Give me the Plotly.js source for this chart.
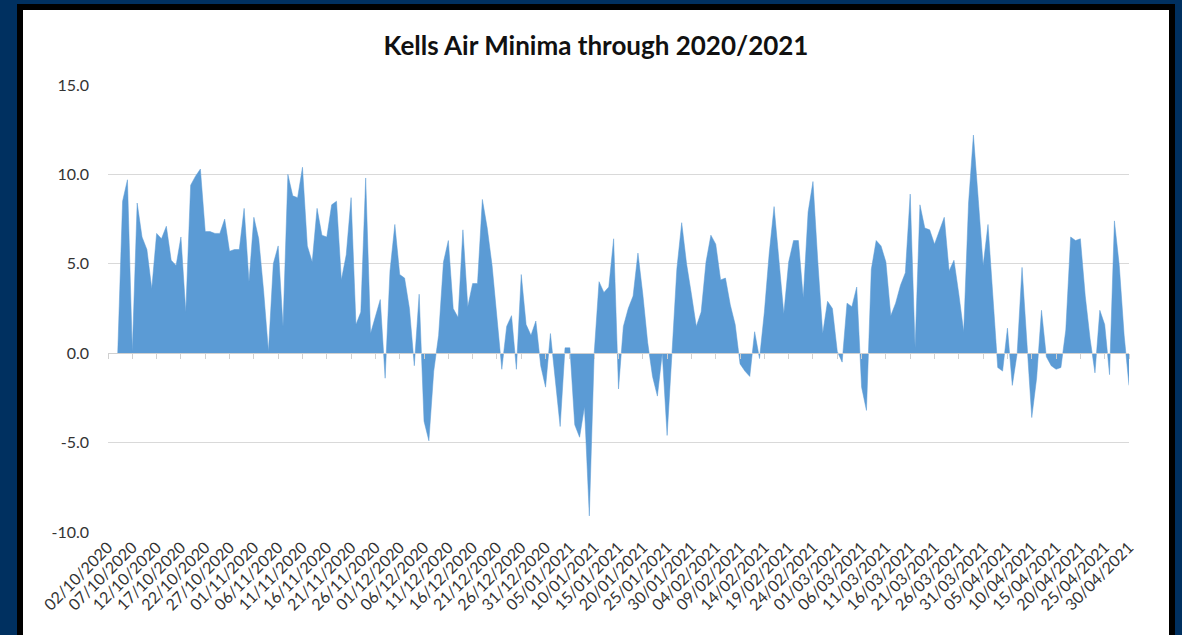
<!DOCTYPE html>
<html>
<head>
<meta charset="utf-8">
<script src="https://cdn.plot.ly/plotly-3.0.1.min.js"></script>
<style>
  html, body { margin: 0; padding: 0; background: #003060; width: 1182px; height: 635px; overflow: hidden; }
  #frame { position: absolute; left: 17px; top: 4px; border: 6px solid #000; background: #fff; width: 1146px; height: 640px; }
  #chart { width: 1146px; height: 625px; }
</style>
</head>
<body>
<div id="frame"><div id="chart"></div></div>
<script>
// Daily air minimum temperature (°C), 02/10/2020 .. 30/04/2021 (211 days)
const startDay = 2, startMonth = 10, startYear = 2020;
const dayCount = 211;

const minima = [
  null, null, 0.0, 8.5, 9.7, 0.1, 8.4, 6.5, 5.8, 3.6,
  6.7, 6.4, 7.1, 5.2, 4.9, 6.5, 2.3, 9.4, 9.9, 10.3,
  6.8, 6.8, 6.7, 6.7, 7.5, 5.7, 5.8, 5.8, 8.1, 4.0,
  7.6, 6.4, 3.5, 0.1, 5.0, 6.0, 1.5, 10.0, 8.8, 8.7,
  10.4, 6.0, 5.1, 8.1, 6.6, 6.5, 8.3, 8.5, 4.1, 5.5,
  8.7, 1.6, 2.3, 9.8, 1.1, 2.0, 3.0, -1.4, 4.6, 7.2,
  4.4, 4.2, 2.5, -0.7, 3.3, -3.8, -4.9, -1.0, 1.0, 5.1,
  6.3, 2.5, 2.0, 6.9, 2.6, 3.9, 3.9, 8.6, 7.0, 4.9,
  2.1, -0.9, 1.5, 2.1, -0.9, 4.4, 1.6, 1.0, 1.8, -0.7,
  -1.9, 1.1, -1.5, -4.1, 0.3, 0.3, -4.0, -4.7, -3.0, -9.1,
  0.0, 4.0, 3.4, 3.7, 6.4, -2.0, 1.5, 2.5, 3.2, 5.6,
  3.3, 0.6, -1.3, -2.4, 0.0, -4.6, 0.0, 4.7, 7.3, 5.0,
  3.3, 1.5, 2.3, 5.1, 6.6, 6.1, 4.1, 4.2, 2.7, 1.6,
  -0.6, -1.0, -1.3, 1.2, -0.3, 2.3, 5.6, 8.2, 5.2, 2.2,
  5.1, 6.3, 6.3, 3.1, 7.9, 9.6, 5.1, 1.1, 2.9, 2.5,
  0.1, -0.5, 2.8, 2.6, 3.7, -1.9, -3.2, 4.7, 6.3, 6.0,
  5.1, 2.1, 2.8, 3.8, 4.5, 8.9, 0.3, 8.3, 7.0, 6.9,
  6.1, 6.9, 7.6, 4.6, 5.2, 3.3, 1.2, 8.4, 12.2, 8.6,
  4.9, 7.2, 3.2, -0.8, -1.0, 1.4, -1.8, 0.0, 4.8, 0.6,
  -3.6, -1.4, 2.4, -0.2, -0.7, -0.9, -0.8, 1.3, 6.5, 6.3,
  6.4, 3.2, 0.8, -1.1, 2.4, 1.6, -1.2, 7.4, 4.9, 1.0,
  -1.8
];

const yTicks = [-10, -5, 0, 5, 10, 15];
const yTickText = ['-10.0', '-5.0', '0.0', '5.0', '10.0', '15.0'];
const labelEvery = 5;

// build the dd/mm/yyyy category labels
function pad(n) { return (n < 10 ? '0' : '') + n; }
const dates = [];
for (let i = 0; i < dayCount; i++) {
  const d = new Date(Date.UTC(startYear, startMonth - 1, startDay + i));
  dates.push(pad(d.getUTCDate()) + '/' + pad(d.getUTCMonth() + 1) + '/' + d.getUTCFullYear());
}
const tickDates = dates.filter((_, i) => i % labelEvery === 0);

const FONT = 'Lato, "Open Sans", sans-serif';
const blue = '#5B9BD5';

const traces = [
  {
    type: 'scatter', mode: 'lines', x: dates, y: minima,
    fill: 'tozeroy', fillcolor: blue,
    line: { color: blue, width: 0.5 },
    hoverinfo: 'x+y', showlegend: false
  },
  {
    // carrier for the category axis drawn at y = 0 (line + ticks only)
    type: 'scatter', mode: 'lines', x: dates, y: dates.map(() => null),
    xaxis: 'x2', hoverinfo: 'skip', showlegend: false
  }
];

const layout = {
  width: 1146, height: 625,
  margin: { l: 85, r: 40, t: 75, b: 103 },
  paper_bgcolor: '#ffffff', plot_bgcolor: '#ffffff',
  title: {
    text: '<b>Kells Air Minima through 2020/2021</b>',
    x: 0.5, xanchor: 'center', xref: 'container',
    y: 1 - 36 / 625, yanchor: 'middle', yref: 'container',
    font: { family: FONT, size: 26, color: '#111111' }
  },
  xaxis: {
    type: 'category', categoryarray: dates, range: [0, dayCount - 1],
    tickmode: 'array', tickvals: tickDates, ticktext: tickDates,
    tickangle: -45, ticks: '', showgrid: false, showline: false, zeroline: false,
    tickfont: { family: FONT, size: 16, color: '#333333' },
    ticklabelstandoff: 2
  },
  xaxis2: {
    type: 'category', categoryarray: dates, range: [0, dayCount - 1],
    overlaying: 'x', anchor: 'free', position: 0.4,
    tickmode: 'array', tickvals: tickDates,
    showticklabels: false, ticks: 'outside', ticklen: 5, tickcolor: '#d0d0d0', tickwidth: 1,
    showline: true, linecolor: '#d0d0d0', linewidth: 1,
    showgrid: false, zeroline: false, layer: 'above traces'
  },
  yaxis: {
    range: [-10, 15], tickmode: 'array', tickvals: yTicks, ticktext: yTickText,
    showgrid: true, gridcolor: '#d9d9d9', gridwidth: 1,
    zeroline: true, zerolinecolor: '#d0d0d0', zerolinewidth: 1,
    showline: false, ticks: '',
    tickfont: { family: FONT, size: 16, color: '#333333' },
    ticklabelstandoff: 18
  }
};

Plotly.newPlot('chart', traces, layout, { displayModeBar: false, staticPlot: true });
</script>
</body>
</html>
